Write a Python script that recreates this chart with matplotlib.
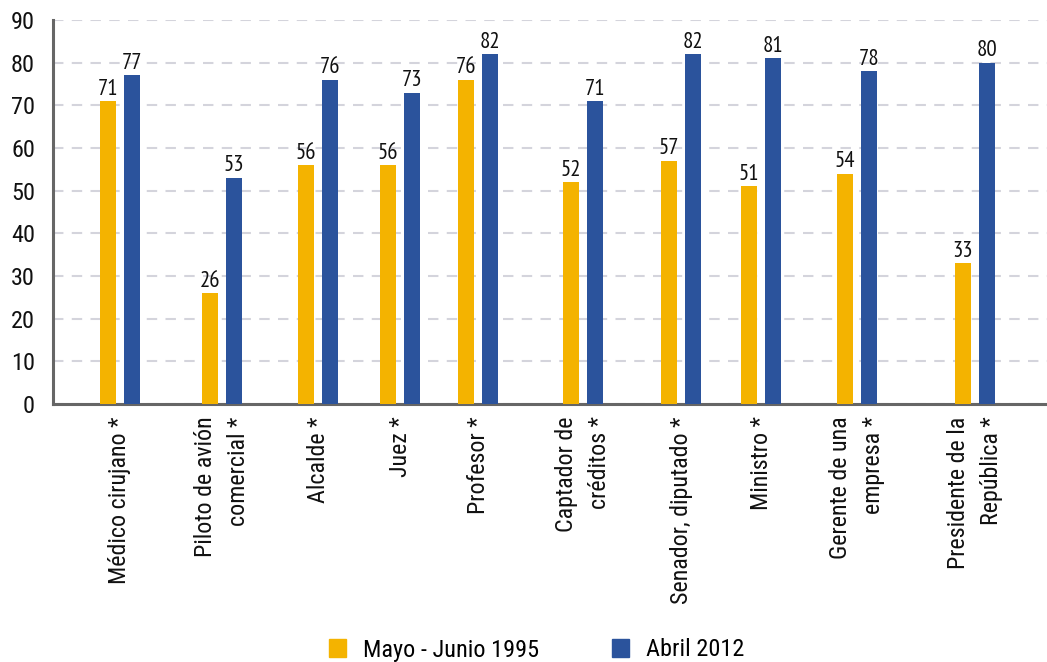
import matplotlib
matplotlib.use("Agg")
import matplotlib.pyplot as plt
from matplotlib.patches import Patch

plt.rcParams['font.family'] = ['Roboto Condensed', 'DejaVu Sans']
LABEL_FONT = ['PT Sans Narrow', 'Roboto Condensed', 'DejaVu Sans']

categories = ["Médico cirujano *", "Piloto de avión\ncomercial *", "Alcalde *", "Juez *",
              "Profesor *", "Captador de\ncréditos *", "Senador, diputado *", "Ministro *",
              "Gerente de una\nempresa *", "Presidente de la\nRepública *"]
series_names = ["Mayo - Junio 1995", "Abril 2012"]
may_1995 = [71, 26, 56, 56, 76, 52, 57, 51, 54, 33]
apr_2012 = [77, 53, 76, 73, 82, 71, 82, 81, 78, 80]
yticks = list(range(0, 91, 10))

# layout: group centres (uneven, as in the reference)
positions = [0.674, 1.70, 2.666, 3.491, 4.276, 5.332, 6.318, 7.123, 8.089, 9.276]
offset = 0.121
width = 0.161

YELLOW = "#F4B300"
BLUE = "#2B539C"

fig = plt.figure(figsize=(10.47, 6.62), dpi=100)
ax = fig.add_axes([53/1047, 258/662, 994/1047, 384/662])

xs1 = [p - offset for p in positions]
xs2 = [p + offset for p in positions]
b1 = ax.bar(xs1, may_1995, width=width, color=YELLOW, zorder=3)
b2 = ax.bar(xs2, apr_2012, width=width, color=BLUE, zorder=3)
for bars, vals in ((b1, may_1995), (b2, apr_2012)):
    ax.bar_label(bars, labels=[str(v) for v in vals], padding=1, fontsize=16.5,
                 color="#111111", family=LABEL_FONT)

ax.set_xlim(0, 10)
ax.set_ylim(0, 90)
ax.set_yticks(yticks)
ax.set_yticklabels([str(t) for t in yticks], fontsize=17.5)
ax.set_xticks(positions)
ax.set_xticklabels(categories, rotation=90, fontsize=17.3, ha='center', va='top',
                   multialignment='right', linespacing=1.55)
ax.tick_params(axis='x', length=0, pad=9, colors="#111111")
ax.tick_params(axis='y', length=0, pad=13, colors="#111111")
ax.yaxis.grid(True, linestyle=(0, (5, 4)), color="#D4D4DC", linewidth=1.5, zorder=0)
ax.set_axisbelow(True)
for s in ("top", "right"):
    ax.spines[s].set_visible(False)
for s in ("left", "bottom"):
    ax.spines[s].set_color("#666666")
    ax.spines[s].set_linewidth(2.2)

handles = [Patch(color=YELLOW), Patch(color=BLUE)]
fig.legend(handles, series_names, loc="center", bbox_to_anchor=(537/1047, 1 - 650/662),
           ncol=2, frameon=False, fontsize=17.5, handlelength=0.7, handleheight=0.7,
           handletextpad=0.7, columnspacing=3.0)

fig.savefig("out.png", dpi=100)
